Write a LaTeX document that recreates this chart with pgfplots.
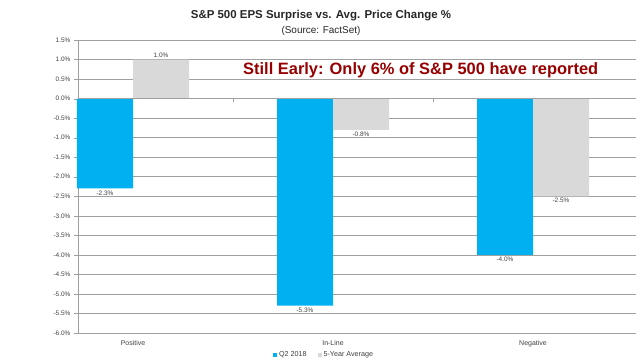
\documentclass[border=0pt]{standalone}
\usepackage{pgfplots}
\pgfplotsset{compat=1.18}
\usepackage{fontspec}
\setmainfont{Liberation Sans}
\definecolor{qblue}{RGB}{0,176,240}
\definecolor{qgray}{RGB}{217,217,217}
\definecolor{gridgray}{RGB}{160,160,160}
\definecolor{txt}{RGB}{64,64,64}
\definecolor{maroon}{RGB}{150,0,0}
\begin{document}
\begin{tikzpicture}
\useasboundingbox (0,0) rectangle (640bp,364bp);
\begin{axis}[
  at={(78bp,31bp)}, anchor=south west,
  scale only axis, width=558bp, height=293bp,
  /pgf/number format/assume math mode=true,
  xmin=-0.275, xmax=2.515,
  ymin=-6, ymax=1.5,
  ytick={-6,-5.5,...,1.5},
  yticklabel={\pgfmathprintnumber[fixed,fixed zerofill,precision=1]{\tick}\%},
  yticklabel style={font=\fontsize{6.5}{7}\selectfont, text=txt},
  xtick={0,1,2},
  xticklabels={Positive,In-Line,Negative},
  xticklabel style={font=\fontsize{7}{8}\selectfont, text=txt},
  x tick style={draw=none},
  y tick style={draw=gridgray},
  tick align=outside,
  major tick length=4bp,
  axis lines*=left,
  axis line style={draw=gridgray, -},
  ymajorgrids, grid style={draw=gridgray, line width=0.6pt},
  ybar=0pt, bar width=0.28,
  nodes near coords={\pgfmathprintnumber[fixed,fixed zerofill,precision=1]{\pgfplotspointmeta}\%},
  every node near coord/.append style={font=\fontsize{6.5}{7}\selectfont, text=txt, inner sep=2pt},
  legend style={at={(0.441,-0.075)}, anchor=center, draw=none, legend columns=2,
    font=\fontsize{7.2}{8}\selectfont, text=txt, /tikz/every even column/.append style={column sep=9bp}},
  legend image code/.code={\fill[#1] (0bp,-2bp) rectangle (4bp,2bp);},
  clip=false,
]
\addplot[fill=qblue, draw=none, bar shift=-0.14] coordinates {(0,-2.3) (1,-5.3) (2,-4.0)};
\addplot[fill=qgray, draw=none, bar shift=0.14] coordinates {(0,1.0) (1,-0.8) (2,-2.5)};
\legend{Q2 2018, 5-Year Average}
\draw[gridgray] (axis cs:0.5,0) -- (axis cs:0.5,-0.08);
\draw[gridgray] (axis cs:1.5,0) -- (axis cs:1.5,-0.08);
\draw[gridgray, line width=0.6pt] (axis cs:-0.275,0) -- (axis cs:2.515,0);
\end{axis}
\node[font=\bfseries\fontsize{11.5}{13}\selectfont, text=black!85] at (321bp,348bp) {S\&P 500 EPS Surprise vs. Avg. Price Change \%};
\node[font=\fontsize{10}{12}\selectfont, text=black!85] at (321bp,333bp) {(Source: FactSet)};
\node[anchor=west, font=\bfseries\fontsize{16.5}{18}\selectfont, text=maroon, inner sep=0pt] at (243bp,294bp) {Still Early: Only 6\% of S\&P 500 have reported};
\end{tikzpicture}
\end{document}
